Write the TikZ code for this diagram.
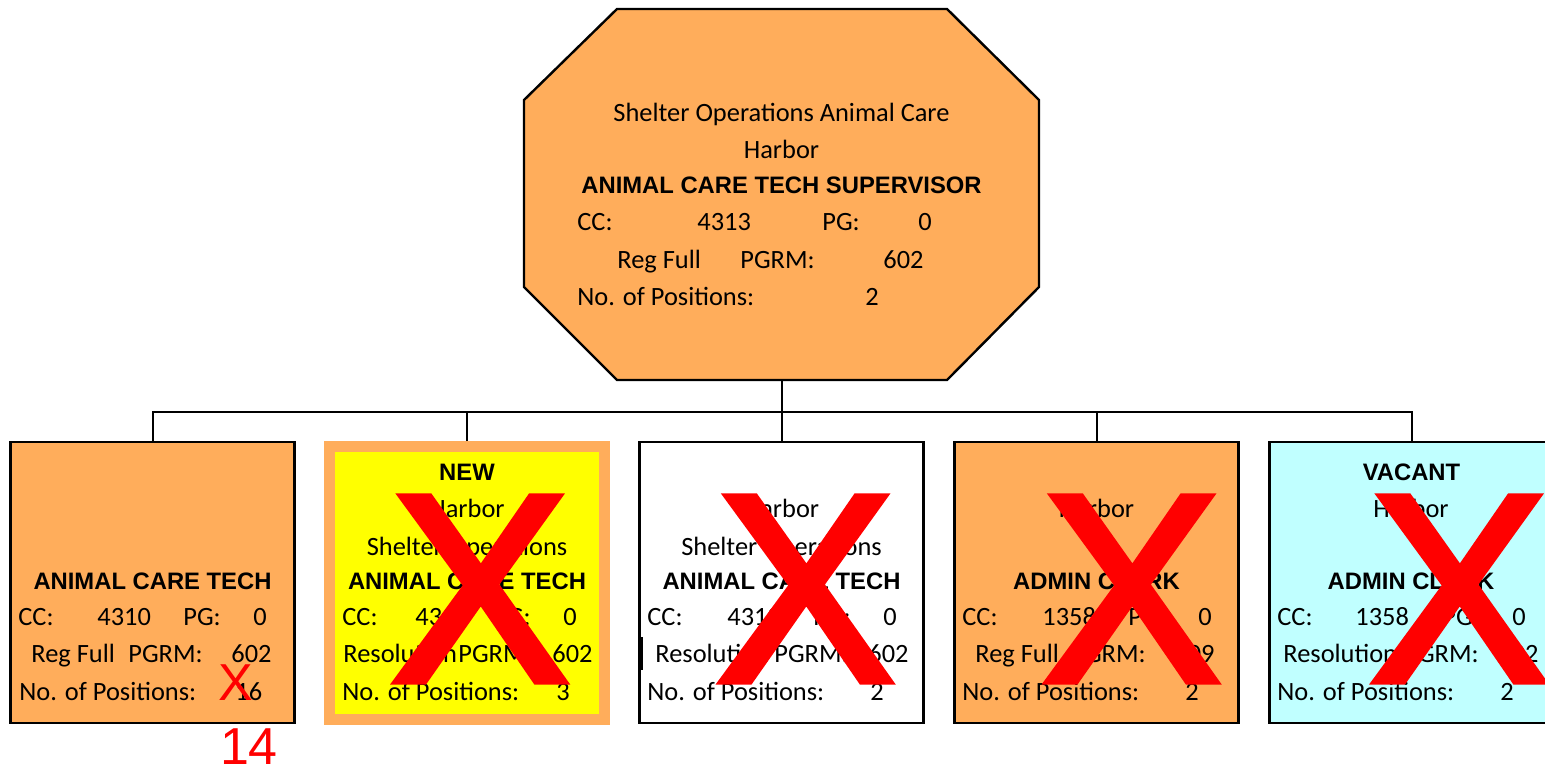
\documentclass[tikz,border=0pt]{standalone}
\usepackage{fontspec}
\setmainfont{Carlito}
\newfontfamily\arialfont{Liberation Sans}
\newfontfamily\crossfont[FakeBold=2.5]{Liberation Sans}
\definecolor{orng}{RGB}{255,173,91}
\definecolor{lcyan}{RGB}{192,255,255}
\definecolor{ylw}{RGB}{255,255,0}
\tikzset{
  posbox/.style={draw=black, line width=1.2pt, minimum width=142pt, minimum height=140.5pt, inner sep=0},
  txt/.style={inner sep=0, anchor=base west, font=\fontsize{13.2}{15}\selectfont},
  ctxt/.style={txt, anchor=base},
  hd/.style={inner sep=0, anchor=base, font=\arialfont\bfseries\fontsize{11.9}{14}\selectfont},
  bigx/.style={inner sep=0, text=red, font=\crossfont\fontsize{134}{134}\selectfont},
  smallx/.style={inner sep=0, text=red, font=\arialfont\fontsize{26}{26}\selectfont}
}
\begin{document}
\begin{tikzpicture}[x=0.5pt, y=-0.5pt]
\clip (0,0) rectangle (1545,770);
\fill [white] (0,0) rectangle (1545,770);
% supervisor
\draw [fill=orng, line width=1.2pt] (617,9) -- (947,9) -- (1039,100) -- (1039,287) -- (947,380) -- (617,380) -- (524,287) -- (524,100) -- cycle;
\coordinate (supbot) at (781.5,380);
\coordinate (bus) at (781.5,412);
\node (s1) at (781.5,122) [ctxt] {Shelter Operations Animal Care};
\node (s2) at (781.5,159) [ctxt] {Harbor};
\node (s3) at (781.5,194) [hd] {ANIMAL CARE TECH SUPERVISOR};
\node (s4) at (577,230) [txt] {CC:};
\node (s5) at (697,230) [txt] {4313};
\node (s6) at (822,230) [txt] {PG:};
\node (s7) at (918,230) [txt] {0};
\node (s8) at (617,268) [txt] {Reg Full};
\node (s9) at (740,268) [txt] {PGRM:};
\node (s10) at (883,268) [txt] {602};
\node (s11) at (577,305) [txt] {No. of Positions:};
\node (s12) at (865,305) [txt] {2};
% positions
\node (b1) at (152.5,582.5) [posbox, fill=orng] {};
\node (b2) at (467,583) [posbox, draw=orng, fill=ylw, line width=5.5pt, minimum width=137.5pt, minimum height=136.5pt] {};
\node (b3) at (781.5,582.5) [posbox, fill=white] {};
\node (b4) at (1096.5,582.5) [posbox, fill=orng] {};
\node (b5) at (1411.5,582.5) [posbox, fill=lcyan] {};
% connectors
\draw [line width=1pt] (supbot) -- (bus);
\draw [line width=1pt] (b1.north) |- (bus) -| (b5.north);
\draw [line width=1pt] (b2.north) -- (b2.north |- bus);
\draw [line width=1pt] (b3.north) -- (b3.north |- bus);
\draw [line width=1pt] (b4.north) -- (b4.north |- bus);
% box 1
\node (a1) at (152.5,589) [hd] {ANIMAL CARE TECH};
\node (a2) at (18,625) [txt] {CC:};
\node (a3) at (97,625) [txt] {4310};
\node (a4) at (183,625) [txt] {PG:};
\node (a5) at (253,625) [txt] {0};
\node (a6) at (31,662) [txt] {Reg Full};
\node (a7) at (128,662) [txt] {PGRM:};
\node (a8) at (231,662) [txt] {602};
\node (a9) at (19,700) [txt] {No. of Positions:};
\node (a10) at (235,700) [txt] {16};
\node (ax) at (235.5,683) [smallx] {X};
\node (a14) at (249,764) [smallx, anchor=base] {14};
% box 2
\node (c1) at (467,480) [hd] {NEW};
\node (c2) at (467,517) [ctxt] {Harbor};
\node (c3) at (467,555) [ctxt] {Shelter Operations};
\node (c4) at (467,589) [hd] {ANIMAL CARE TECH};
\node (c5) at (342,625) [txt] {CC:};
\node (c6) at (415,625) [txt] {4310};
\node (c7) at (493,625) [txt] {PG:};
\node (c8) at (563,625) [txt] {0};
\node (c9) at (343,662) [txt] {Resolution};
\node (c10) at (458,662) [txt] {PGRM:};
\node (c11) at (552,662) [txt] {602};
\node (c12) at (342,700) [txt] {No. of Positions:};
\node (c13) at (556,700) [txt] {3};
% box 3
\node (d2) at (781.5,517) [ctxt] {Harbor};
\node (d3) at (781.5,555) [ctxt] {Shelter Operations};
\node (d4) at (781.5,589) [hd] {ANIMAL CARE TECH};
\node (d5) at (647,625) [txt] {CC:};
\node (d6) at (727,625) [txt] {4310};
\node (d7) at (813,625) [txt] {PG:};
\node (d8) at (883,625) [txt] {0};
\node (d9) at (655,662) [txt] {Resolution};
\node (d10) at (774,662) [txt] {PGRM:};
\node (d11) at (868,662) [txt] {602};
\node (d12) at (647,700) [txt] {No. of Positions:};
\node (d13) at (870,700) [txt] {2};
\draw [line width=0.8pt] (642,637) -- (642,670);
% box 4
\node (e2) at (1096.5,517) [ctxt] {Harbor};
\node (e4) at (1096.5,589) [hd] {ADMIN CLERK};
\node (e5) at (962,625) [txt] {CC:};
\node (e6) at (1042,625) [txt] {1358};
\node (e7) at (1128,625) [txt] {PG:};
\node (e8) at (1198,625) [txt] {0};
\node (e9) at (975,662) [txt] {Reg Full};
\node (e10) at (1071,662) [txt] {PGRM:};
\node (e11) at (1174,662) [txt] {609};
\node (e12) at (962,700) [txt] {No. of Positions:};
\node (e13) at (1185,700) [txt] {2};
% box 5
\node (f1) at (1411.5,480) [hd] {VACANT};
\node (f2) at (1411,517) [ctxt] {Harbor};
\node (f4) at (1411,589) [hd] {ADMIN CLERK};
\node (f5) at (1277,625) [txt] {CC:};
\node (f6) at (1355,625) [txt] {1358};
\node (f7) at (1442,625) [txt] {PG:};
\node (f8) at (1512,625) [txt] {0};
\node (f9) at (1283,662) [txt] {Resolution};
\node (f10) at (1404,662) [txt] {PGRM:};
\node (f11) at (1498,662) [txt] {602};
\node (f12) at (1277,700) [txt] {No. of Positions:};
\node (f13) at (1500,700) [txt] {2};
% crossed out
\node (x2) at (480,589) [bigx] {X};
\node (x3) at (805.5,589) [bigx] {X};
\node (x4) at (1131.5,589) [bigx] {X};
\node (x5) at (1459,589) [bigx] {X};
\end{tikzpicture}
\end{document}
